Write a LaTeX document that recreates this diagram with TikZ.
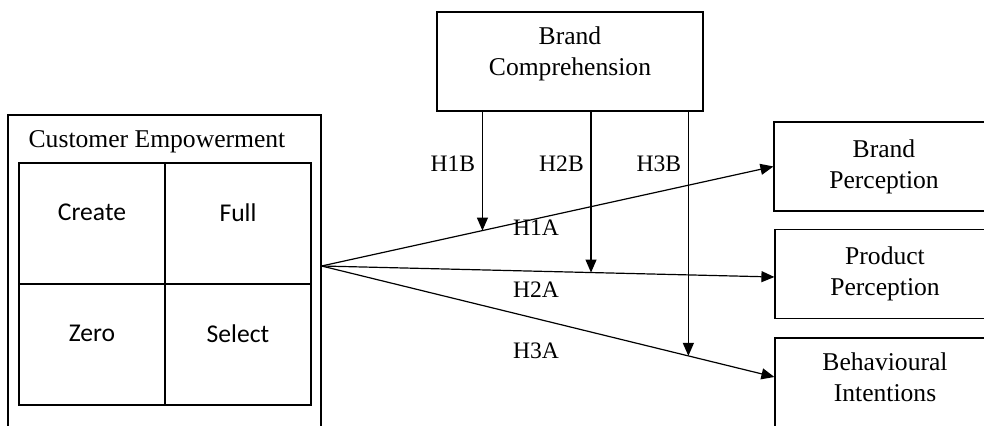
\documentclass[tikz,border=0pt]{standalone}
\usepackage{fontspec}
\setmainfont{Liberation Serif}
\newfontfamily\calibri{Carlito}
\usetikzlibrary{arrows.meta}

\begin{document}
\begin{tikzpicture}[x=0.5pt, y=-0.5pt, line width=0.6pt, >={Triangle[length=6.5pt,width=5.5pt]},
	every node/.style={font=\fontsize{12.8}{15.5}\selectfont},
	box/.style={draw, align=center, inner sep=0pt, minimum width=110pt, minimum height=44.5pt},
	cell/.style={draw, inner sep=0pt, minimum width=73pt, minimum height=60.5pt, text depth=11pt, font=\calibri\fontsize{12.8}{15.5}\selectfont},
	hyp/.style={font=\fontsize{11.8}{14}\selectfont}]
	\useasboundingbox (0,0) rectangle (984,426);
	\clip (0,0) rectangle (984,426);
	% customer empowerment block
	\node[draw, minimum width=156.5pt, minimum height=170pt] (emp) at (164.5,285) {};
	\node (title) at (157,142) {Customer Empowerment};
	\node[cell] (create) at (92,223.5) {Create};
	\node[cell] (full) at (238,223.5) {Full};
	\node[cell] (zero) at (92,344.5) {Zero};
	\node[cell] (select) at (238,344.5) {Select};
	% moderator and outcomes
	\node[box, minimum width=133pt, minimum height=49.5pt, text depth=10pt] (bc) at (570,61.5) {Brand\\Comprehension};
	\node[box] (bp) at (884,166.5) {Brand\\Perception};
	\node[box] (pp) at (885,274) {Product\\Perception};
	\node[box, minimum height=55pt, text depth=15.5pt] (bi) at (885,393) {Behavioural\\Intentions};
	\coordinate (src) at (emp.north east |- 0,266);
	\draw[->] (src) -- (bp.west);
	\draw[->] (src) -- ([yshift=-1.5pt]pp.west);
	\draw[->] (src) -- ([yshift=8pt]bi.west);
	\path (src) -- (bp.west) coordinate[pos=0.356] (m1);
	\path (src) -- ([yshift=-1.5pt]pp.west) coordinate[pos=0.595] (m2);
	\path (src) -- ([yshift=8pt]bi.west) coordinate[pos=0.81] (m3);
	\draw[->] (bc.south -| m1) -- node[hyp, left, pos=0.435] {H1B} (m1);
	\draw[->] (bc.south -| m2) -- node[hyp, left, pos=0.322] {H2B} (m2);
	\draw[->] (bc.south -| m3) -- node[hyp, left, pos=0.212] {H3B} (m3);
	\node[hyp] (h1a) at (536,228) {H1A};
	\node[hyp] (h2a) at (536,290) {H2A};
	\node[hyp] (h3a) at (536,351) {H3A};
\end{tikzpicture}
\end{document}
